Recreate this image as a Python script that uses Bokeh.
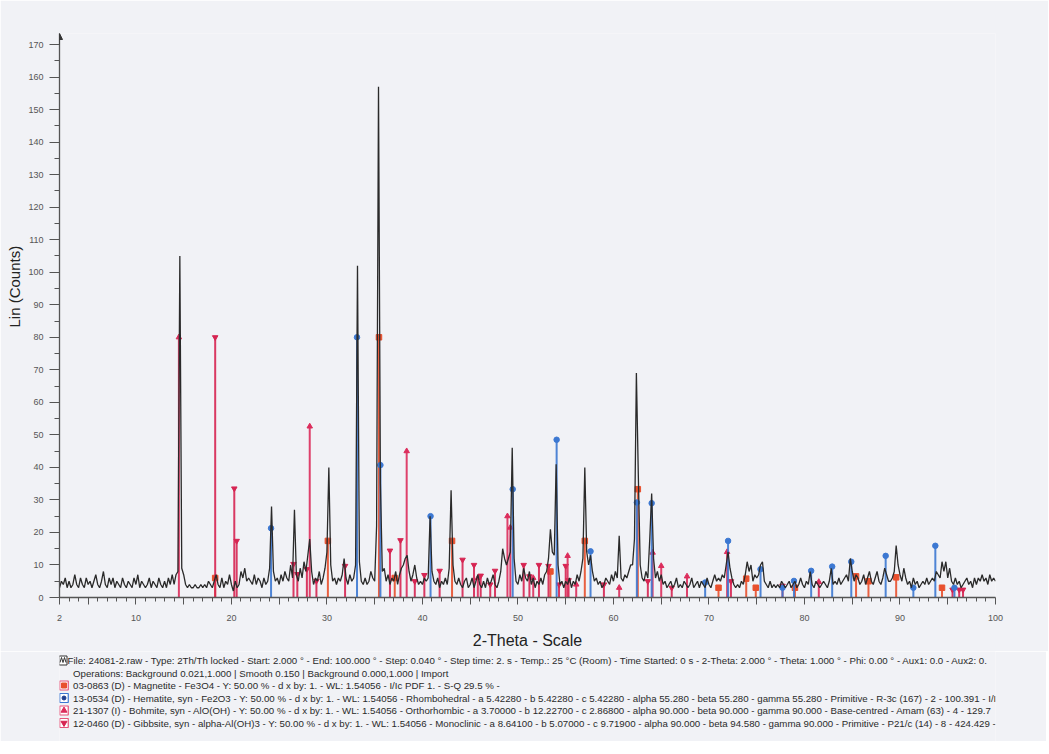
from bokeh.plotting import figure
from bokeh.models import Range1d, FixedTicker, SingleIntervalTicker, Title, Arrow, NormalHead
from bokeh.layouts import column
from bokeh.embed import file_html
from bokeh.resources import INLINE
from bokeh.core.properties import value

# ---------------- data ----------------
two_theta_start = 2.0
two_theta_step = 0.2
counts = [
    3, 5, 4, 6, 3,      # 2
    5, 3, 4, 7, 4,      # 3
    3, 6, 4, 3, 6,      # 4
    4, 5, 3, 5, 7,      # 5
    4, 3, 5, 8, 4,      # 6
    3, 6, 4, 6, 3,      # 7
    5, 4, 3, 6, 4,      # 8
    3, 5, 4, 3, 6,      # 9
    4, 7, 3, 5, 4,      # 10
    3, 4, 6, 3, 5,      # 11
    4, 3, 6, 4, 3,      # 12
    5, 3, 6, 4, 7,      # 13
    4, 7, 8, 105, 9,    # 14
    7, 4, 3, 4, 3,      # 15
    3, 4, 3, 3, 4,      # 16
    3, 4, 3, 5, 4,      # 17
    3, 5, 7, 4, 3,      # 18
    6, 3, 5, 4, 7,      # 19
    4, 2, 5, 3, 4,      # 20
    8, 6, 9, 5, 6,      # 21
    5, 4, 7, 4, 6,      # 22
    5, 3, 6, 4, 5,      # 23
    9, 28, 8, 5, 6,     # 24
    4, 7, 5, 8, 6,      # 25
    5, 10, 6, 27, 7,    # 26
    5, 9, 6, 11, 8,     # 27
    13, 18, 8, 4, 6,    # 28
    5, 8, 4, 6, 9,      # 29
    14, 40, 10, 5, 6,   # 30
    4, 6, 5, 7, 12,     # 31
    6, 4, 7, 5, 6,      # 32
    10, 102, 11, 5, 4,  # 33
    6, 4, 5, 8, 6,      # 34
    5, 22, 157, 35, 8,  # 35
    9, 5, 7, 4, 6,      # 36
    5, 8, 4, 7, 9,      # 37
    10, 12, 13, 8, 5,   # 38
    7, 10, 6, 4, 5,     # 39
    4, 6, 5, 6, 25,     # 40
    8, 5, 4, 6, 3,      # 41
    5, 4, 6, 4, 9,      # 42
    33, 10, 5, 4, 6,    # 43
    4, 3, 5, 6, 3,      # 44
    4, 6, 3, 5, 7,      # 45
    4, 3, 5, 3, 6,      # 46
    4, 5, 7, 4, 3,      # 47
    5, 8, 15, 12, 10,   # 48
    12, 14, 46, 12, 5,  # 49
    4, 7, 5, 9, 6,      # 50
    5, 8, 4, 6, 3,      # 51
    5, 4, 6, 4, 7,      # 52
    8, 12, 21, 14, 13,  # 53
    41, 10, 4, 5, 3,    # 54
    5, 4, 6, 3, 5,      # 55
    4, 7, 5, 8, 12,     # 56
    40, 14, 10, 13, 8,  # 57
    5, 6, 4, 5, 3,      # 58
    4, 6, 5, 4, 7,      # 59
    5, 8, 6, 19, 6,     # 60
    5, 7, 6, 8, 10,     # 61
    10, 18, 69, 38, 10, # 62
    6, 5, 8, 6, 18,     # 63
    32, 12, 6, 8, 5,    # 64
    7, 4, 5, 3, 4,      # 65
    5, 3, 4, 6, 3,      # 66
    4, 3, 5, 4, 3,      # 67
    4, 6, 3, 4, 5,      # 68
    3, 5, 4, 3, 6,      # 69
    4, 3, 5, 7, 5,      # 70
    6, 5, 7, 6, 10,     # 71
    14, 9, 6, 4, 3,     # 72
    4, 3, 5, 4, 7,      # 73
    11, 8, 10, 5, 7,    # 74
    6, 7, 10, 11, 5,    # 75
    4, 3, 5, 3, 4,      # 76
    3, 4, 3, 5, 4,      # 77
    3, 4, 5, 3, 4,      # 78
    5, 3, 4, 6, 4,      # 79
    3, 5, 4, 8, 4,      # 80
    3, 5, 4, 3, 4,      # 81
    5, 4, 3, 5, 9,      # 82
    4, 5, 4, 6, 4,      # 83
    5, 6, 7, 5, 12,     # 84
    8, 5, 7, 6, 4,      # 85
    5, 7, 4, 6, 8,      # 86
    5, 4, 6, 8, 5,      # 87
    4, 6, 9, 7, 5,      # 88
    5, 6, 8, 16, 10,    # 89
    7, 5, 9, 6, 4,      # 90
    5, 3, 6, 4, 5,      # 91
    3, 4, 5, 4, 6,      # 92
    4, 5, 6, 5, 8,      # 93
    7, 6, 11, 8, 11,    # 94
    6, 9, 5, 4, 6,      # 95
    4, 5, 3, 4, 5,      # 96
    6, 4, 5, 3, 6,      # 97
    4, 6, 5, 7, 5,      # 98
    6, 4, 7, 5, 6,      # 99
    5,                  # 100
]
assert len(counts) == 491
two_theta = [round(two_theta_start + two_theta_step * i, 2) for i in range(len(counts))]

magnetite_pos = [18.3, 30.1, 35.45, 37.1, 43.1, 53.4, 57.0, 62.55, 71.0, 73.9, 74.9, 79.0, 85.4, 86.7, 89.6, 94.4]
magnetite_h = [6, 17.4, 80, 6, 17.4, 8, 17.4, 33.3, 3, 5.8, 3, 3, 6.5, 5, 6.2, 3]

hematite_pos = [24.15, 33.15, 35.6, 40.85, 49.45, 54.05, 57.6, 62.45, 64.0, 69.6, 72.0, 75.4, 77.7, 78.9,
                80.7, 82.9, 84.9, 88.5, 91.4, 93.7, 95.7]
hematite_h = [21.3, 80, 40.7, 25, 33.3, 48.5, 14.2, 29.2, 29, 4.6, 17.4, 8.7, 3, 5.1,
              8.2, 9.5, 11, 12.8, 3, 15.9, 3]

bohmite_pos = [14.5, 28.2, 38.35, 45.8, 48.9, 49.2, 51.6, 55.2, 56.1, 60.6, 64.1, 65.0, 67.7, 71.9, 81.5]
bohmite_h = [80, 52.6, 45, 6, 25, 21.5, 6, 12.8, 4, 3, 13.8, 9.7, 6.5, 14, 4.8]

gibbsite_pos = [18.3, 20.3, 20.55, 26.5, 26.9, 27.9, 28.9, 31.9, 36.6, 37.7, 39.2, 40.2, 41.8, 44.2, 45.4,
                46.1, 47.1, 47.6, 50.6, 51.2, 52.2, 53.2, 54.3, 55.0, 55.3, 59.0, 63.6, 66.1, 72.3, 77.7,
                95.5, 96.2, 96.6]
gibbsite_h = [80, 33.5, 17.4, 10.3, 7.2, 8.7, 5.1, 9.7, 14.4, 17.6, 5, 6.9, 8.2, 11.6, 10,
              6.7, 4, 8.2, 10, 6.5, 10, 9.7, 4, 9.7, 5.3, 4, 5, 3, 5, 3.6,
              2.4, 2.4, 2.4]

x_major_ticks = [2, 5, 10, 15, 20, 25, 30, 35, 40, 45, 50, 55, 60, 65, 70, 75, 80, 85, 90, 95, 100]
x_labelled_ticks = [2, 10, 20, 30, 40, 50, 60, 70, 80, 90, 100]
x_minor_ticks = list(range(3, 100))

x_title = "2-Theta - Scale"
y_title = "Lin (Counts)"

legend_lines = [
    "File: 24081-2.raw - Type: 2Th/Th locked - Start: 2.000 \u00b0 - End: 100.000 \u00b0 - Step: 0.040 \u00b0 - Step time: 2. s - Temp.: 25 \u00b0C (Room) - Time Started: 0 s - 2-Theta: 2.000 \u00b0 - Theta: 1.000 \u00b0 - Phi: 0.00 \u00b0 - Aux1: 0.0 - Aux2: 0.",
    "Operations: Background 0.021,1.000 | Smooth 0.150 | Background 0.000,1.000 | Import",
    "03-0863 (D) - Magnetite - Fe3O4 - Y: 50.00 % - d x by: 1. - WL: 1.54056 - I/Ic PDF 1. - S-Q 29.5 % -",
    "13-0534 (D) - Hematite, syn - Fe2O3 - Y: 50.00 % - d x by: 1. - WL: 1.54056 - Rhombohedral - a 5.42280 - b 5.42280 - c 5.42280 - alpha 55.280 - beta 55.280 - gamma 55.280 - Primitive - R-3c (167) - 2 - 100.391 - I/I",
    "21-1307 (I) - Bohmite, syn - AlO(OH) - Y: 50.00 % - d x by: 1. - WL: 1.54056 - Orthorhombic - a 3.70000 - b 12.22700 - c 2.86800 - alpha 90.000 - beta 90.000 - gamma 90.000 - Base-centred - Amam (63) - 4 - 129.7",
    "12-0460 (D) - Gibbsite, syn - alpha-Al(OH)3 - Y: 50.00 % - d x by: 1. - WL: 1.54056 - Monoclinic - a 8.64100 - b 5.07000 - c 9.71900 - alpha 90.000 - beta 94.580 - gamma 90.000 - Primitive - P21/c (14) - 8 - 424.429 -",
]

# ---------------- styles ----------------
BG = "#f1f2f6"
FONT = "Liberation Sans"
TRACE = "#2a2a2a"
MAG = "#e8502e"
HEM = "#3c78d2"
BOH = "#dc2d5c"
GIB = "#d62552"
AXIS = "#555555"

FRAME_L, FRAME_W, FRAME_T, FRAME_H = 57, 936, 33, 564
BORDER_R = 1046 - FRAME_L - FRAME_W
P_H = 650

p = figure(frame_width=FRAME_W, frame_height=FRAME_H,
           min_border_left=FRAME_L, min_border_right=BORDER_R, min_border_top=FRAME_T,
           min_border_bottom=P_H - FRAME_T - FRAME_H,
           x_range=Range1d(2, 100), y_range=Range1d(0, 173.4),
           output_backend="svg", toolbar_location=None,
           background_fill_color=BG, border_fill_color=BG)
p.grid.visible = False
p.outline_line_color = None

xa = p.xaxis[0]
xa.ticker = FixedTicker(ticks=x_major_ticks, minor_ticks=x_minor_ticks)
xa.major_label_overrides = {t: ("" if t not in x_labelled_ticks else str(t)) for t in x_major_ticks}
xa.major_tick_out = 7
xa.major_tick_in = 0
xa.minor_tick_out = 4
xa.minor_tick_in = 0
xa.axis_line_color = AXIS
xa.axis_line_width = 1.3
xa.major_tick_line_color = AXIS
xa.minor_tick_line_color = AXIS
xa.major_label_text_font = FONT
xa.major_label_text_font_size = "9px"
xa.major_label_text_color = "#555555"
xa.major_label_standoff = 10
xa.axis_label = x_title
xa.axis_label_text_font = FONT
xa.axis_label_text_font_size = "16px"
xa.axis_label_text_font_style = "normal"
xa.axis_label_text_color = "#222222"
xa.axis_label_standoff = 8

ya = p.yaxis[0]
ya.ticker = SingleIntervalTicker(interval=10, num_minor_ticks=2)
ya.major_tick_out = 10
ya.major_tick_in = 0
ya.minor_tick_out = 5
ya.minor_tick_in = 0
ya.axis_line_color = AXIS
ya.axis_line_width = 1.3
ya.major_tick_line_color = AXIS
ya.minor_tick_line_color = AXIS
ya.major_label_text_font = FONT
ya.major_label_text_font_size = "9px"
ya.major_label_text_color = "#555555"
ya.major_label_standoff = 6

p.add_layout(Title(text=y_title, align="left", offset=270, standoff=6,
                   text_font=FONT, text_font_size="15px", text_font_style="normal",
                   text_color="#222222"), "left")

p.add_layout(Arrow(end=NormalHead(size=6, fill_color="#333333", line_color="#333333"),
                   x_start=2, y_start=170, x_end=2, y_end=173.4,
                   line_color="#333333", line_width=1))

phases = [
    (magnetite_pos, magnetite_h, MAG, "square"),
    (gibbsite_pos, gibbsite_h, GIB, "inverted_triangle"),
    (bohmite_pos, bohmite_h, BOH, "triangle"),
    (hematite_pos, hematite_h, HEM, "circle"),
]
for pos, h, col, mk in phases:
    p.segment(x0=pos, y0=[0] * len(pos), x1=pos, y1=h, line_color=col, line_width=2, line_alpha=0.9)
    p.scatter(pos, h, marker=mk, size=5.5, fill_color=col, line_color=col)

p.line(two_theta, counts, line_color=TRACE, line_width=1.3)

# ---------------- legend / info block (page-pixel coordinates) ----------------
LH = 90
p2 = figure(frame_width=FRAME_W, frame_height=LH,
            min_border_left=FRAME_L, min_border_right=BORDER_R, min_border_top=0, min_border_bottom=0,
            x_range=Range1d(FRAME_L, FRAME_L + FRAME_W), y_range=Range1d(P_H + LH, P_H),
            output_backend="svg", toolbar_location=None,
            x_axis_location=None, y_axis_location=None,
            background_fill_color=BG, border_fill_color=BG)
p2.grid.visible = False
p2.outline_line_color = None

line_y = [659, 671.5, 684, 696.5, 709, 721.5]
line_x = [65, 70.5, 70.5, 70.5, 70.5, 70.5]
p2.text(x=line_x, y=line_y, text=legend_lines, text_font=value(FONT), text_font_size="9.7px",
        text_color="#2a2a2a", text_baseline="middle", text_align="left")

icon_x = 61.5
icon_cols = ["#e5537a", "#3c78d2", "#e5537a", "#e5537a"]
p2.rect(x=[icon_x] * 4, y=line_y[2:], width=8.5, height=9, fill_color="white",
        line_color=icon_cols, line_width=1.2)
p2.scatter(x=[icon_x] * 4, y=line_y[2:], marker=["square", "circle", "triangle", "inverted_triangle"],
           size=[5, 4, 6, 6], fill_color=[MAG, "#1f3f8f", BOH, GIB], line_color=[MAG, "#1f3f8f", BOH, GIB])
# file icon
p2.rect(x=[icon_x - 1], y=[line_y[0]], width=8, height=9, fill_color="white", line_color="#333333", line_width=1)
p2.line(x=[icon_x - 4, icon_x - 2.5, icon_x - 1, icon_x + 0.5, icon_x + 2],
        y=[line_y[0] + 2, line_y[0] - 3, line_y[0] + 2, line_y[0] - 3, line_y[0] + 2],
        line_color="#333333", line_width=1)

layout = column(p, p2, spacing=0)
open("out.html", "w").write(file_html(layout, INLINE))
